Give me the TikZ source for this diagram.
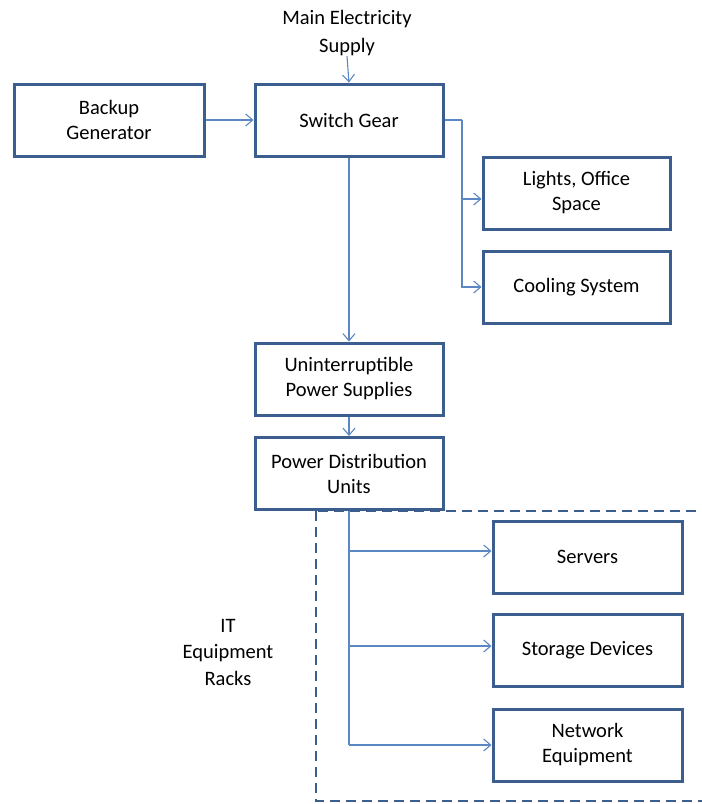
\documentclass[tikz,border=0pt]{standalone}
\usepackage{fontspec}
\setmainfont{Carlito}
\usetikzlibrary{arrows.meta}
\definecolor{boxblue}{HTML}{3B5E8F}
\definecolor{wireblue}{HTML}{5B87C2}
\tikzset{
  block/.style={draw=boxblue, line width=3pt, fill=white, align=center,
    minimum height=72pt, inner sep=2pt, font=\fontsize{20.5}{25}\selectfont},
  wire/.style={draw=wireblue, line width=1.1pt},
  feed/.style={wire, -{Straight Barb[length=7pt,width=12pt,line width=1.1pt]}},
  lbl/.style={align=center, font=\fontsize{20.5}{27.5}\selectfont},
}
\begin{document}
\begin{tikzpicture}[x=1pt, y=-1pt]
\useasboundingbox (0,0) rectangle (702,804);
% rack enclosure, open to the right
\draw[boxblue, line width=2.2pt, dash pattern=on 10pt off 6pt] (316,511) rectangle (720,801);

\node[lbl, inner sep=0.5pt] (mains) at (347,33) {Main Electricity\\Supply};
\node[block, minimum width=190pt] (gen) at (109,120) {Backup\\Generator};
\node[block, minimum width=188pt] (sw) at (349,120) {Switch Gear};
\node[block, minimum width=187pt] (lights) at (576.5,193) {Lights, Office\\Space};
\node[block, minimum width=187pt] (cool) at (576.5,287) {Cooling System};
\node[block, minimum width=188pt] (ups) at (349,379) {Uninterruptible\\Power Supplies};
\node[block, minimum width=188pt] (pdu) at (349,473.5) {Power Distribution\\Units};
\node[block, minimum width=189pt] (srv) at (587.5,557) {Servers};
\node[block, minimum width=189pt] (sto) at (587.5,650.5) {Storage Devices};
\node[block, minimum width=189pt] (net) at (587.5,745) {Network\\Equipment};
\node[lbl, font=\fontsize{20.5}{26.5}\selectfont] (racks) at (228,652) {IT\\Equipment\\Racks};

\coordinate (swtap) at (462,120);
\coordinate (pdutap) at (349,745);

\draw[feed] (mains.south) -- (sw.north);
\draw[feed] (gen.east) -- (sw.west);
\draw[wire] (sw.east) -- (swtap);
\draw[feed] (swtap) |- ([yshift=-6pt]lights.west);
\draw[feed] (swtap) |- (cool.west);
\draw[feed] (sw.south) -- (ups.north);
\draw[feed] (ups.south) -- (pdu.north);
\draw[wire] (pdu.south) -- (pdutap);
\draw[feed] (pdu.south) |- ([yshift=6pt]srv.west);
\draw[feed] (pdu.south) |- ([yshift=4.5pt]sto.west);
\draw[feed] (pdutap) -- (net.west);
\end{tikzpicture}
\end{document}
